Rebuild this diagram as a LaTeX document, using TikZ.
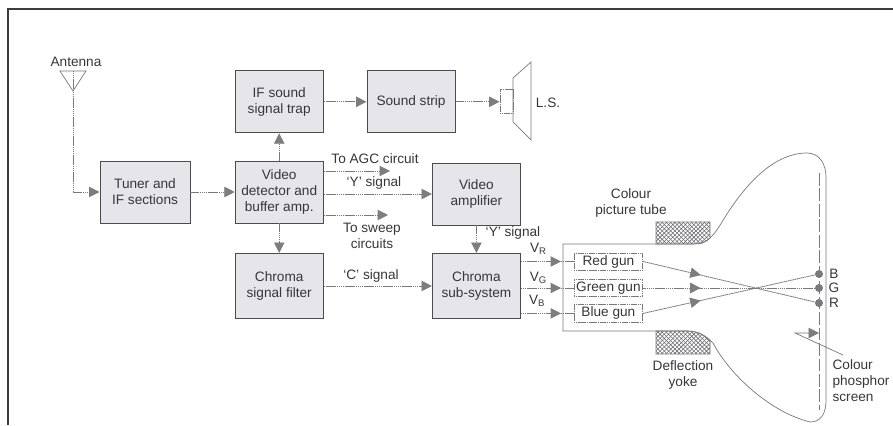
\documentclass[tikz,border=0pt]{standalone}
\usepackage{fontspec}
\setmainfont{Liberation Sans}
\usepackage{xcolor}
\definecolor{tvfill}{RGB}{230,230,234}
\definecolor{tvedge}{RGB}{75,75,80}
\definecolor{tvline}{RGB}{120,120,125}
\definecolor{tvtip}{RGB}{125,125,125}
\definecolor{tvtext}{RGB}{55,55,58}
\definecolor{tvframe}{RGB}{60,60,70}
\definecolor{tvhatch}{RGB}{110,110,115}
\usetikzlibrary{arrows.meta, positioning, calc, patterns, decorations.markings}
\tikzset{
  tvbox/.style={draw=tvedge, fill=tvfill, line width=0.7pt, align=center, text=tvtext, font=\fontsize{9.7}{11.4}\selectfont, minimum width=2.2cm, minimum height=1.55cm, inner sep=0pt},
  gunbox/.style={draw=tvline, dash pattern=on 1pt off 0.3pt, line width=0.5pt, text=tvtext, font=\fontsize{9.7}{11.4}\selectfont, minimum width=1.72cm, minimum height=0.43cm, inner sep=0pt},
  lbl/.style={text=tvtext, align=center, font=\fontsize{9.7}{11.4}\selectfont, inner sep=0pt},
  sigline/.style={draw=tvline, dash pattern=on 1pt off 0.35pt, line width=0.6pt},
  sigtip/.style={-{Triangle[length=2.6mm, width=2.6mm, fill=tvtip, tvtip]}},
  sigarrow/.style={sigline, sigtip},
  midarrow/.style={sigline, postaction={decorate}, decoration={markings, mark=at position #1 with {\arrow{Triangle[length=2.6mm, width=2.6mm, fill=tvtip, tvtip]}}}},
  outline/.style={draw=tvline, line width=0.5pt},
  yoke/.style={draw=tvline, line width=0.4pt, pattern=crosshatch, pattern color=tvhatch},
  phosdot/.style={circle, fill=tvline, minimum size=0.2cm, inner sep=0pt}
}
\begin{document}
\begin{tikzpicture}
  \useasboundingbox (0,0) rectangle (22.325,10.625);

  % Outer frame
  \draw[tvframe, line width=1pt] (0.2,0) -- (0.2,10.4) -- (22.325,10.4);

  % Antenna
  \node[lbl] (antenna) at (1.9,9.075) {Antenna};
  \coordinate (anttop) at (1.825,8.85);
  \draw[outline] (1.5,8.85) -- (2.15,8.85) -- (1.825,8.35) -- cycle;

  % Block row -- top
  \node[tvbox] (trap) at (6.98,8.08) {IF sound\\signal trap};
  \node[tvbox] (strip) at (10.275,8.08) {Sound strip};

  % Block row -- middle
  \node[tvbox, minimum width=2.25cm] (tuner) at (3.625,5.825) {Tuner and\\IF sections};
  \node[tvbox] (det) at (6.98,5.825) {Video\\detector and\\buffer amp.};
  \node[tvbox] (amp) at (11.91,5.775) {Video\\amplifier};

  % Block row -- bottom
  \node[tvbox, minimum height=1.63cm] (filter) at (6.98,3.475) {Chroma\\signal filter};
  \node[tvbox, minimum height=1.63cm] (chroma) at (11.91,3.475) {Chroma\\sub-system};

  % Loudspeaker
  \node[draw=tvline, dash pattern=on 1pt off 0.3pt, line width=0.5pt, minimum width=0.325cm, minimum height=0.6cm, inner sep=0pt] (lsbox) at (12.66,8.08) {};
  \draw[outline] (12.825,8.675) -- (13.275,9.075) -- (13.275,7.125) -- (12.825,7.575) -- cycle;
  \node[lbl] (ls) at (13.7,8.05) {L.S.};

  % Picture tube
  \draw[yoke] (16.4,4.525) -- (16.4,5.075) -- (17.75,5.075) -- (17.75,4.675) .. controls (17.6,4.525) and (17.5,4.525) .. (17.325,4.525) -- cycle;
  \draw[yoke] (16.4,2.35) -- (16.4,1.775) -- (17.75,1.775) -- (17.75,2.125) .. controls (17.55,2.3) and (17.4,2.35) .. (17.175,2.35) -- cycle;
  \draw[outline] (14.075,4.525) -- (17.325,4.525)
    .. controls (17.7,4.525) and (17.85,4.75) .. (18.05,5.075)
    .. controls (18.5,5.825) and (19.25,6.8) .. (20.175,6.8)
    .. controls (20.5,6.8) and (20.65,6.5) .. (20.65,6.2)
    -- (20.65,0.625)
    .. controls (20.65,0.25) and (20.5,0.075) .. (20.25,0.075)
    .. controls (19.25,0.325) and (18.25,1.25) .. (17.825,2.05)
    .. controls (17.625,2.225) and (17.45,2.35) .. (17.175,2.35)
    -- (14.075,2.35) -- cycle;
  \draw[tvline, line width=0.5pt, dash pattern=on 9pt off 2pt] (20.475,6.3) -- (20.475,0.375);

  % Guns
  \node[gunbox] (redgun) at (15.21,4.0875) {Red gun};
  \node[gunbox] (greengun) at (15.21,3.425) {Green gun};
  \node[gunbox] (bluegun) at (15.21,2.79) {Blue gun};

  % Phosphor dots
  \node[phosdot] (dotb) at (20.475,3.775) {};
  \node[phosdot] (dotg) at (20.475,3.425) {};
  \node[phosdot] (dotr) at (20.475,3.05) {};
  \node[lbl] (labb) at (20.85,3.775) {B};
  \node[lbl] (labg) at (20.85,3.425) {G};
  \node[lbl] (labr) at (20.85,3.05) {R};

  % Free ends
  \coordinate (agcend) at (9.75,6.35);
  \coordinate (sweepend) at (9.7,5.25);
  \coordinate (ptra) at (21.075,1.75);
  \coordinate (ptrb) at (19.875,2.3);
  \coordinate (ptrc) at (20.475,2.3);

  % Connectors
  \draw[sigarrow] (anttop) |- (tuner.west);
  \draw[sigarrow] (tuner) -- (det);
  \draw[sigarrow] (det) -- (trap);
  \draw[sigarrow] (det) -- (filter);
  \draw[sigarrow] (trap) -- (strip);
  \draw[sigarrow] (strip) -- (lsbox);
  \draw[sigarrow] (det.east |- agcend) -- (agcend);
  \draw[sigarrow] (det.east |- amp.west) -- (amp.west);
  \draw[sigarrow] (det.east |- sweepend) -- (sweepend);
  \draw[sigarrow] (amp) -- (chroma);
  \draw[sigarrow] (filter) -- (chroma);
  \draw[midarrow=0.76] (chroma.east |- redgun.west) -- (redgun.west);
  \draw[midarrow=0.76] (chroma.east |- greengun.west) -- (greengun.west);
  \draw[midarrow=0.76] (chroma.east |- bluegun.west) -- (bluegun.west);
  \draw[midarrow=0.335] (redgun.east) -- (dotr);
  \draw[midarrow=0.335] (greengun.east) -- (dotg);
  \draw[midarrow=0.335] (bluegun.east) -- (dotb);
  \draw[outline, sigtip] (ptra) -- (ptrb) -- (ptrc);

  % Labels
  \node[lbl] (agclab) at (9.375,6.65) {To AGC circuit};
  \node[lbl] (ylab) at (9.35,6.05) {`Y' signal};
  \node[lbl] (sweeplab) at (9.3,4.725) {To sweep\\circuits};
  \node[lbl] (clab) at (9.275,3.725) {`C' signal};
  \node[lbl] (ylabb) at (12.825,4.8) {`Y' signal};
  \node[lbl] (vr) at (13.46,4.4) {V\textsubscript{R}};
  \node[lbl] (vg) at (13.46,3.68) {V\textsubscript{G}};
  \node[lbl] (vb) at (13.43,3.1) {V\textsubscript{B}};
  \node[lbl] (tubelab) at (15.775,5.55) {Colour\\picture tube};
  \node[lbl] (yokelab) at (17.075,1.25) {Deflection\\yoke};
  \node[lbl, align=left] (screenlab) at (21.525,1.1) {Colour\\phosphor\\screen};
\end{tikzpicture}
\end{document}
